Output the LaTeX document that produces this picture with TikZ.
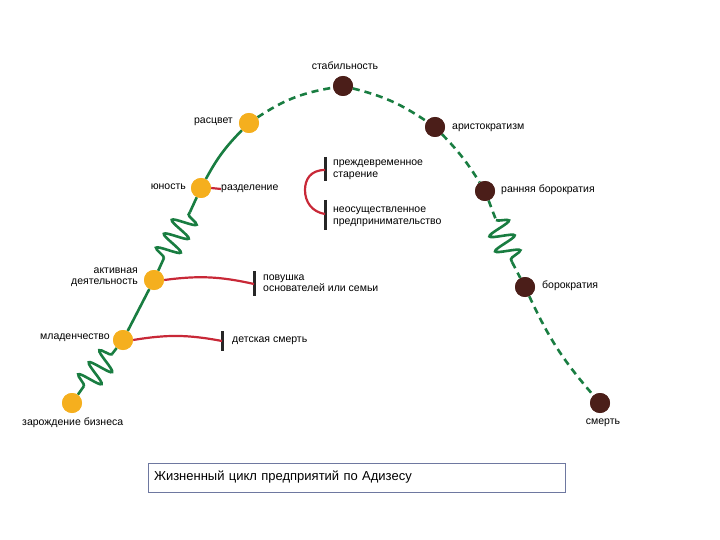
\documentclass[tikz,border=0pt]{standalone}
\usepackage{fontspec}
\setmainfont{Liberation Sans}
\usetikzlibrary{decorations.pathmorphing}
\definecolor{gr}{RGB}{25,125,65}
\definecolor{yl}{RGB}{245,175,30}
\definecolor{br}{RGB}{75,30,25}
\definecolor{rd}{RGB}{200,40,55}
\definecolor{bx}{RGB}{110,120,160}
\begin{document}
\begin{tikzpicture}[x=1pt,y=-1pt,
  ydot/.style={circle,fill=yl,minimum size=20pt,inner sep=0pt},
  bdot/.style={circle,fill=br,minimum size=20pt,inner sep=0pt},
  gline/.style={draw=gr,line width=2.6pt},
  gdash/.style={gline,dash pattern=on 7pt off 5pt},
  zz/.style={gline,decorate,decoration={snake,segment length=16pt,amplitude=12pt}},
  rline/.style={draw=rd,line width=2.2pt},
  bar/.style={draw=black!85,line width=3pt},
  lbl/.style={font=\fontsize{10.5}{11.5}\selectfont,inner sep=0pt,align=left}]
\useasboundingbox (0,0) rectangle (720,540);
\coordinate (z1a) at (84,386); \coordinate (z1b) at (112,354);
\coordinate (z2a) at (164,258); \coordinate (z2b) at (190,212);
\coordinate (z3a) at (496,220); \coordinate (z3b) at (512,262);
\node[ydot] (birth) at (72,403) {};
\node[ydot] (inf) at (123,340) {};
\node[ydot] (act) at (154,280) {};
\node[ydot] (youth) at (201,188) {};
\node[ydot] (prime) at (249,123) {};
\node[bdot] (stab) at (343,86) {};
\node[bdot] (ari) at (435,127) {};
\node[bdot] (ebur) at (485,191) {};
\node[bdot] (bur) at (525,287) {};
\node[bdot] (death) at (600,403) {};
\draw[gline] (birth) -- (z1a);
\draw[zz] (z1a) -- (z1b);
\draw[gline] (z1b) -- (inf);
\draw[gline] (inf) -- (act);
\draw[gline] (act) -- (z2a);
\draw[zz] (z2a) -- (z2b);
\draw[gline] (z2b) -- (youth);
\draw[gline] (youth) to[bend left=8] (prime);
\draw[gdash] (prime) to[bend left=12] (stab);
\draw[gdash] (stab) to[bend left=10] (ari);
\draw[gdash] (ari) to[bend left=6] (ebur);
\draw[gdash] (ebur) -- (z3a);
\draw[zz] (z3a) -- (z3b);
\draw[gdash] (z3b) -- (bur);
\draw[gdash] (bur) to[bend right=8] (death);
\foreach \n in {birth,inf,act,youth,prime}{\node[ydot] at (\n) {};}
\foreach \n in {stab,ari,ebur,bur,death}{\node[bdot] at (\n) {};}
\coordinate (b1t) at (222,331); \coordinate (b1b) at (222,351);
\draw[bar] (b1t) -- (b1b);
\coordinate (b1) at (222,341);
\draw[rline] (inf.east) to[bend left=10] (b1);
\coordinate (b2t) at (254,271); \coordinate (b2b) at (254,296);
\draw[bar] (b2t) -- (b2b);
\coordinate (b2) at (254,284);
\draw[rline] (act.east) to[bend left=10] (b2);
\node[lbl,anchor=west] (sep) at (221,189) {разделение};
\draw[rline] (youth.east) -- (sep.west);
\coordinate (b3t) at (325,157); \coordinate (b3b) at (325,181);
\coordinate (b4t) at (325,200); \coordinate (b4b) at (325,230);
\draw[bar] (b3t) -- (b3b);
\draw[bar] (b4t) -- (b4b);
\coordinate (b3) at (325,170); \coordinate (b4) at (325,214);
\coordinate (fork) at (305,190);
\draw[rline] (b3) .. controls (310,170) and (305,180) .. (fork) .. controls (305,202) and (312,212) .. (b4);
\node[lbl] (l1) at (345,66) {стабильность};
\node[lbl,anchor=east] (l2) at (233,122) {расцвет};
\node[lbl,anchor=west] (l3) at (452,128) {аристократизм};
\node[lbl,anchor=east] (l4) at (186,187) {юность};
\node[lbl,anchor=west] (l5) at (333,170) {преждевременное\\старение};
\node[lbl,anchor=west] (l6) at (333,217) {неосуществленное\\предпринимательство};
\node[lbl,anchor=west] (l7) at (501,190) {ранняя борократия};
\node[lbl,anchor=east,align=right] (l8) at (138,277) {активная\\деятельность};
\node[lbl,anchor=west] (l9) at (263,283) {повушка\\основателей или семьи};
\node[lbl,anchor=west] (l10) at (542,286) {борократия};
\node[lbl,anchor=east] (l11) at (110,338) {младенчество};
\node[lbl,anchor=west] (l12) at (232,341) {детская смерть};
\node[lbl,anchor=west] (l13) at (22,423) {зарождение бизнеса};
\node[lbl] (l14) at (603,423) {смерть};
\node[draw=bx,line width=1pt,minimum width=417pt,minimum height=29pt,inner sep=6pt,
  text width=405pt,align=left,font=\fontsize{13}{15}\selectfont] (cap) at (356.5,477.5)
  {Жизненный цикл предприятий по Адизесу};
\end{tikzpicture}
\end{document}
